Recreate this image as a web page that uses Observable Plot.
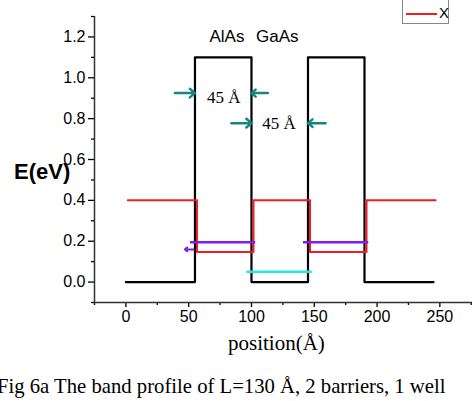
<!DOCTYPE html>
<html>
<head>
<meta charset="utf-8">
<script src="https://cdn.jsdelivr.net/npm/d3@7"></script>
<script src="https://cdn.jsdelivr.net/npm/@observablehq/plot@0.6"></script>
<style>
  body { margin: 0; background: #fff; }
  #wrap { position: relative; width: 472px; height: 401px; overflow: hidden; font-family: "Liberation Sans", Arial, sans-serif; }
  #wrap svg { position: absolute; left: 0; top: 0; }
  .lbl { position: absolute; white-space: nowrap; color: #000; }
  #ylabel { left: 14px; top: 159px; font-weight: bold; font-size: 22px; line-height: 26px; }
  #xlabel { left: 228px; top: 331px; font-family: "Liberation Serif", "Times New Roman", serif; font-size: 21px; line-height: 24px; }
  #caption { left: -3px; top: 374px; font-family: "Liberation Serif", "Times New Roman", serif; font-size: 20.7px; line-height: 24px; }
  #legend { position: absolute; left: 402px; top: -22px; width: 45px; height: 44px; border: 1px solid #888; background: #fff; }
  #legend .row { position: absolute; left: 3px; height: 14px; width: 42px; }
  #legend .sw { position: absolute; left: 0; top: 6px; width: 31px; height: 2px; }
  #legend .t { position: absolute; left: 33px; top: -3px; font-size: 15px; line-height: 18px; }
</style>
</head>
<body>
<div id="wrap">
  <div id="legend">
    <div class="row" style="top:8px"><div class="sw" style="background:#000"></div><div class="t">Y</div></div>
    <div class="row" style="top:28px"><div class="sw" style="background:#ee1c24"></div><div class="t">X</div></div>
  </div>
  <div class="lbl" id="ylabel">E(eV)</div>
  <div class="lbl" id="xlabel">position(Å)</div>
  <div class="lbl" id="caption">Fig 6a The band profile of L=130 Å, 2 barriers, 1 well</div>
</div>
<script>
// Band edges along the growth direction (Å, eV)
const positions = [0, 55, 55, 100, 100, 145, 145, 190, 190, 245];
const gammaEdge = [0, 0, 1.1, 1.1, 0, 0, 1.1, 1.1, 0, 0];        // Y series (black)
const xEdge = [0.4, 0.4, 0.147, 0.147, 0.4, 0.4, 0.147, 0.147, 0.4, 0.4]; // X series (red)

// Quantised levels: [start, end, energy]
const xLevels = [[51, 103, 0.195], [141, 193, 0.195]];
const wellLevel = [[96, 148, 0.05]];
const levelPointer = [[54, 47, 0.16]];

// Width markers: [from, to, energy]
const widthArrows = [[39, 55, 0.925], [113, 100, 0.925], [84, 100, 0.778], [159, 145, 0.778]];
const widthLabels = [[78, 0.905, "45 Å"], [122, 0.775, "45 Å"]];
const layerNames = [[80.5, 1.2, "AlAs"], [120.5, 1.2, "GaAs"]];

const xTicks = [0, 50, 100, 150, 200, 250];
const xMinor = [-25, 25, 75, 125, 175, 225, 275];
const yTicks = [0, 0.2, 0.4, 0.6, 0.8, 1.0, 1.2];
const yMinor = [-0.1, 0.1, 0.3, 0.5, 0.7, 0.9, 1.1, 1.3];

const profile = positions.map((p, i) => ({p, g: gammaEdge[i], x: xEdge[i]}));
const seg = a => a.map(([x1, x2, y]) => ({x1, x2, y}));
const serif = "'Liberation Serif', 'Times New Roman', serif";

const chart = Plot.plot({
  width: 472,
  height: 401,
  marginLeft: 94,
  marginRight: 0,
  marginTop: 16,
  marginBottom: 99,
  style: {fontFamily: "'Liberation Sans', Arial, sans-serif", fontSize: "16px", color: "#000", background: "transparent", overflow: "visible"},
  x: {domain: [-25, 276]},
  y: {domain: [-0.1, 1.3]},
  marks: [
    Plot.axisY({ticks: yTicks, tickSize: 6, tickPadding: 3, tickFormat: d3.format(".1f"), label: null, strokeWidth: 1.3}),
    Plot.axisY({ticks: yMinor, tickSize: 3, tickFormat: () => "", label: null, strokeWidth: 1.3}),
    Plot.axisX({ticks: xTicks, tickSize: 5, tickPadding: 3, label: null, strokeWidth: 1.3}),
    Plot.axisX({ticks: xMinor, tickSize: 3, tickFormat: () => "", label: null, strokeWidth: 1.3}),
    Plot.ruleX([-25], {y1: -0.1, y2: 1.3, stroke: "#333", strokeWidth: 1.5}),
    Plot.ruleY([-0.1], {x1: -25, x2: 276, stroke: "#333", strokeWidth: 1.5}),
    Plot.line(profile, {x: "p", y: "g", stroke: "#000", strokeWidth: 2.2}),
    Plot.line(profile, {x: "p", y: "x", stroke: "#ee1c24", strokeWidth: 2, dx: 2}),
    Plot.link(seg(xLevels), {x1: "x1", x2: "x2", y1: "y", y2: "y", stroke: "#7f1cf0", strokeWidth: 2.5}),
    Plot.link(seg(wellLevel), {x1: "x1", x2: "x2", y1: "y", y2: "y", stroke: "#22e8ea", strokeWidth: 2.5}),
    Plot.arrow(seg(levelPointer), {x1: "x1", x2: "x2", y1: "y", y2: "y", stroke: "#7f1cf0", strokeWidth: 2, headLength: 5, headAngle: 80}),
    Plot.arrow(seg(widthArrows), {x1: "x1", x2: "x2", y1: "y", y2: "y", stroke: "#138787", strokeWidth: 2.5, headLength: 7, headAngle: 80}),
    Plot.text(widthLabels, {x: d => d[0], y: d => d[1], text: d => d[2], fontSize: 17, fontFamily: serif, fill: "#000"}),
    Plot.text(layerNames, {x: d => d[0], y: d => d[1], text: d => d[2], fontSize: 17, fill: "#000"})
  ]
});
document.getElementById("wrap").prepend(chart);
</script>
</body>
</html>
